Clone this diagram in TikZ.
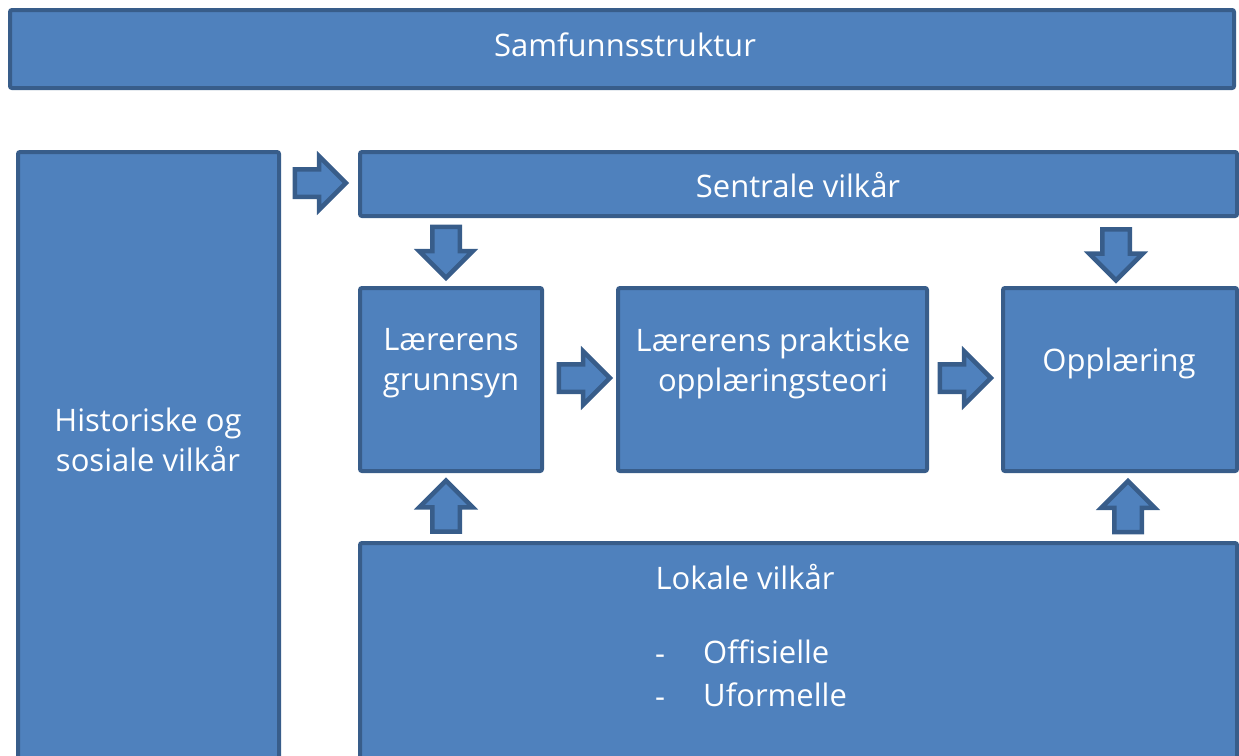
\documentclass[tikz,border=0pt]{standalone}
\usepackage{fontspec}
\setmainfont{Open Sans}
\usetikzlibrary{shapes.arrows}

\definecolor{boxfill}{HTML}{4F81BD}
\definecolor{boxline}{HTML}{385D8A}

\tikzset{
    block/.style={draw=boxline, fill=boxfill, line width=4pt, rounded corners=2pt},
    blocktext/.style={text=white, align=center, inner sep=0pt, font=\fontsize{31}{40}\selectfont},
    blockarrow/.style={single arrow, draw=boxline, fill=boxfill, line width=4.5pt,
        minimum height=51pt, inner xsep=0pt, inner ysep=11.5pt,
        single arrow head extend=13pt, text height=0pt, text depth=0pt},
}

\begin{document}
\begin{tikzpicture}[x=1pt, y=-1pt]
    \useasboundingbox (0,0) rectangle (1239,755);
    \clip (0,0) rectangle (1239,755);
    % boxes
    \node[block, minimum width=1224pt, minimum height=78pt]  (samfunn)   at (622, 49)      {};
    \node[block, minimum width=261pt,  minimum height=648pt] (historisk) at (148.5, 476)   {};
    \node[block, minimum width=877pt,  minimum height=64pt]  (sentral)   at (798.5, 184)   {};
    \node[block, minimum width=182pt,  minimum height=183pt] (grunnsyn)  at (451, 379.5)   {};
    \node[block, minimum width=309pt,  minimum height=183pt] (praksis)   at (772.5, 379.5) {};
    \node[block, minimum width=234pt,  minimum height=183pt] (opplaering) at (1120, 379.5) {};
    \node[block, minimum width=877pt,  minimum height=257pt] (lokal)     at (798.5, 671.5) {};
    % texts
    \node[blocktext] (samfunn-t)    at (625, 45)   {Samfunnsstruktur};
    \node[blocktext] (historisk-t)  at (148, 440)  {Historiske og\\sosiale vilkår};
    \node[blocktext] (sentral-t)    at (798, 185)  {Sentrale vilkår};
    \node[blocktext] (grunnsyn-t)   at (451, 363)  {Lærerens\\grunnsyn};
    \node[blocktext] (praksis-t)    at (773, 363)  {Lærerens praktiske\\opplæringsteori};
    \node[blocktext] (opplaering-t) at (1119, 363) {Opplæring};
    \node[blocktext] (lokal-t)      at (745, 577)  {Lokale vilkår};
    \node[blocktext, anchor=west] (dash1) at (655, 660) {-};
    \node[blocktext, anchor=west] (dash2) at (655, 703) {-};
    \node[blocktext, anchor=west] (offisiell) at (703, 652) {Offisielle};
    \node[blocktext, anchor=west] (uformell)  at (703, 695) {Uformelle};
    % arrows
    \node[blockarrow]             (pil1) at (313.5, 183)  {};
    \node[blockarrow, rotate=-90] (pil2) at (446, 245.5)  {};
    \node[blockarrow]             (pil3) at (577.5, 378)  {};
    \node[blockarrow]             (pil4) at (958.5, 378)  {};
    \node[blockarrow, rotate=-90] (pil5) at (1116, 248)   {};
    \node[blockarrow, rotate=90]  (pil6) at (446, 513)    {};
    \node[blockarrow, rotate=90]  (pil7) at (1128, 513.5) {};
\end{tikzpicture}
\end{document}
